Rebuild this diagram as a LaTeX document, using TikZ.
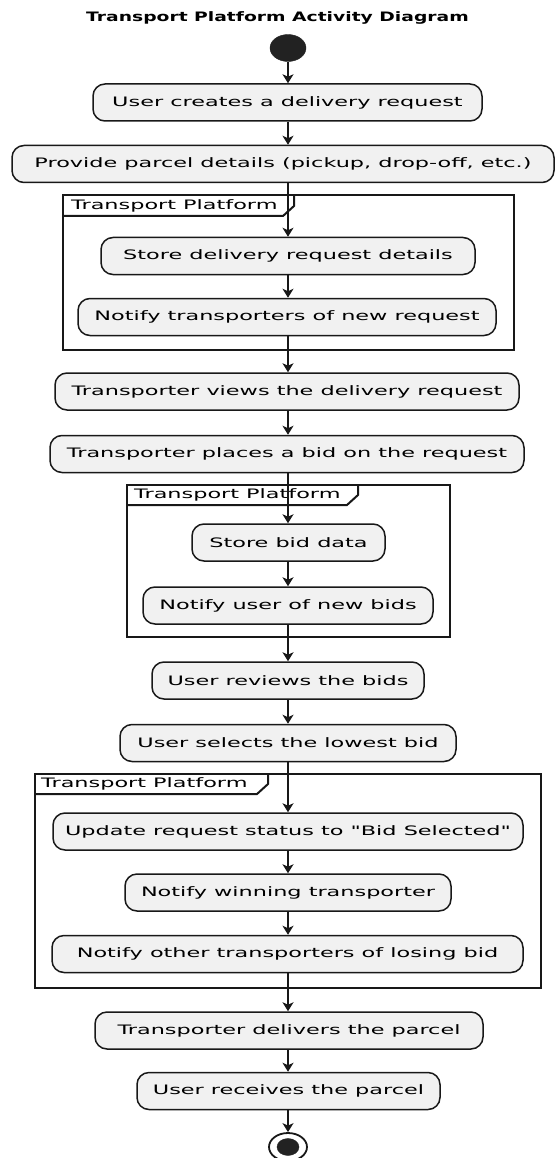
\documentclass[tikz,border=0pt]{standalone}
\usepackage{fontspec}
\newfontfamily\actfont[FakeStretch=1.72]{DejaVu Sans}
\newfontfamily\headfont[FakeStretch=1.44]{DejaVu Sans}
\usepackage{tikz}
\usetikzlibrary{arrows.meta,positioning,shapes.geometric}
\usepackage{xcolor}
\definecolor{ink}{HTML}{181818}
\definecolor{actfill}{HTML}{F1F1F1}
\definecolor{dot}{HTML}{222222}
\tikzset{
  act/.style={draw=ink,fill=actfill,rounded corners=12pt,line width=1.5pt,
    minimum height=37pt,inner sep=0pt,align=center,
    font=\actfont\fontsize{13pt}{15pt}\selectfont},
  part/.style={draw=ink,line width=2pt},
  partlabel/.style={anchor=west,inner sep=2pt,
    font=\actfont\fontsize{13pt}{15pt}\selectfont},
  startdot/.style={ellipse,fill=dot,draw=dot,minimum width=36pt,
    minimum height=27pt,inner sep=0pt},
  enddot/.style={ellipse,draw=ink,line width=1.8pt,fill=white,
    minimum width=38pt,minimum height=28pt,inner sep=0pt},
  arrow/.style={-{Stealth[length=9pt,width=11pt,inset=2.5pt]},draw=ink,line width=1.5pt}
}

\begin{document}
\begin{tikzpicture}[x=1pt,y=-1pt]
  \useasboundingbox (0,0) rectangle (555,1158);

  \node[font=\headfont\bfseries\fontsize{13pt}{15pt}\selectfont] (title) at (277.5,18)
    {Transport Platform Activity Diagram};

  % swimlane frames
  \draw[part] (63,195) rectangle (514,350);
  \draw[part] (63,216) -- (283,216) -- (294,206) -- (294,195);
  \node[partlabel] (p1) at (69,206) {Transport Platform};

  \draw[part] (127,485) rectangle (450,637);
  \draw[part] (127,505) -- (347,505) -- (358,495) -- (358,485);
  \node[partlabel] (p2) at (132,495) {Transport Platform};

  \draw[part] (35,774) rectangle (541,988);
  \draw[part] (35,794) -- (257,794) -- (268,784) -- (268,774);
  \node[partlabel] (p3) at (39,784) {Transport Platform};

  % activities
  \node[startdot] (start) at (288,48) {};
  \node[act,minimum width=389pt] (a) at (287.5,102.5) {User creates a delivery request};
  \node[act,minimum width=542pt] (b) at (283,164) {Provide parcel details (pickup, drop-off, etc.)};
  \node[act,minimum width=374pt] (c) at (288,256) {Store delivery request details};
  \node[act,minimum width=418pt] (d) at (287,317) {Notify transporters of new request};
  \node[act,minimum width=464pt] (e) at (287,391.5) {Transporter views the delivery request};
  \node[act,minimum width=474pt] (f) at (287,454) {Transporter places a bid on the request};
  \node[act,minimum width=193pt] (g) at (288.5,542.5) {Store bid data};
  \node[act,minimum width=290pt] (h) at (288,605.5) {Notify user of new bids};
  \node[act,minimum width=272pt] (i) at (288,680.5) {User reviews the bids};
  \node[act,minimum width=336pt] (j) at (288,743) {User selects the lowest bid};
  \node[act,minimum width=470pt] (k) at (288,831.5) {Update request status to "Bid Selected"};
  \node[act,minimum width=326pt] (l) at (288,892.5) {Notify winning transporter};
  \node[act,minimum width=471pt] (m) at (287.5,954) {Notify other transporters of losing bid};
  \node[act,minimum width=388pt] (n) at (289,1030.5) {Transporter delivers the parcel};
  \node[act,minimum width=303pt] (o) at (288.5,1091) {User receives the parcel};
  \node[enddot] (stop) at (288,1147) {};
  \node[startdot,minimum width=22pt,minimum height=17pt] (stopin) at (stop) {};

  \draw[arrow] (start) -- (start |- a.north);
  \draw[arrow] (a.south -| start) -- (start |- b.north);
  \draw[arrow] (b.south -| start) -- (start |- c.north);
  \draw[arrow] (c.south -| start) -- (start |- d.north);
  \draw[arrow] (d.south -| start) -- (start |- e.north);
  \draw[arrow] (e.south -| start) -- (start |- f.north);
  \draw[arrow] (f.south -| start) -- (start |- g.north);
  \draw[arrow] (g.south -| start) -- (start |- h.north);
  \draw[arrow] (h.south -| start) -- (start |- i.north);
  \draw[arrow] (i.south -| start) -- (start |- j.north);
  \draw[arrow] (j.south -| start) -- (start |- k.north);
  \draw[arrow] (k.south -| start) -- (start |- l.north);
  \draw[arrow] (l.south -| start) -- (start |- m.north);
  \draw[arrow] (m.south -| start) -- (start |- n.north);
  \draw[arrow] (n.south -| start) -- (start |- o.north);
  \draw[arrow] (o.south -| start) -- (stop);
\end{tikzpicture}
\end{document}
